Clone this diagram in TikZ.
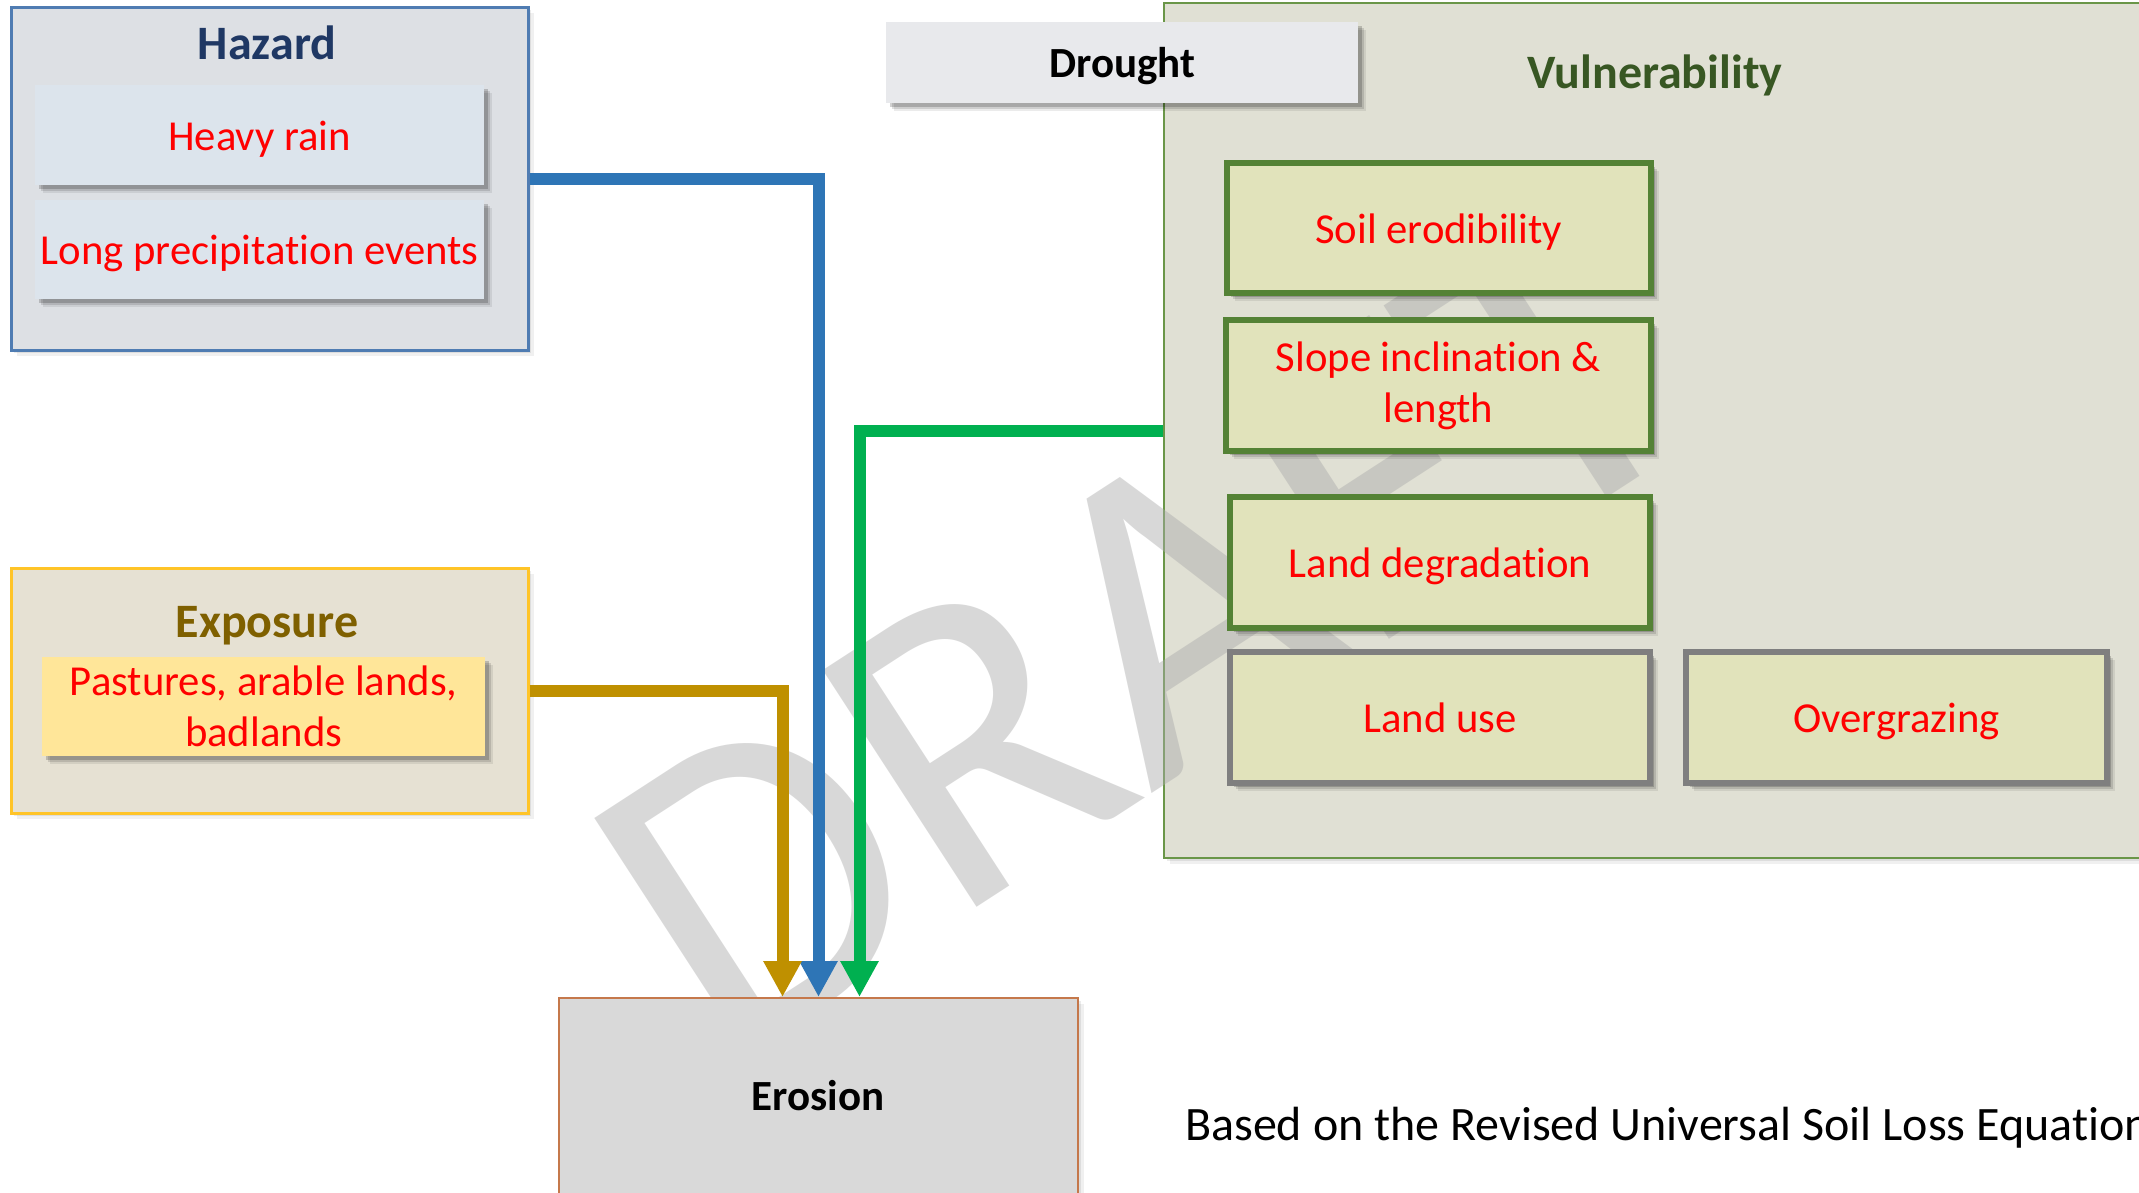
\documentclass[tikz,border=0pt]{standalone}
\usepackage{fontspec}
\setmainfont{Carlito}[Ligatures=NoCommon]
\usetikzlibrary{arrows.meta,shadows}
\definecolor{hzBorder}{RGB}{79,124,178}
\definecolor{hzFill}{RGB}{221,224,228}
\definecolor{hzInner}{RGB}{220,228,236}
\definecolor{hzTitle}{RGB}{31,56,100}
\definecolor{exBorder}{RGB}{255,196,40}
\definecolor{exFill}{RGB}{230,225,211}
\definecolor{exInner}{RGB}{255,230,153}
\definecolor{exTitle}{RGB}{127,96,0}
\definecolor{vuBorder}{RGB}{106,150,72}
\definecolor{vuFill}{RGB}{224,224,212}
\definecolor{vuTitle}{RGB}{56,87,35}
\definecolor{vuInner}{RGB}{225,227,187}
\definecolor{vuGreen}{RGB}{84,130,53}
\definecolor{vuGray}{RGB}{127,127,127}
\definecolor{drFill}{RGB}{232,233,236}
\definecolor{erFill}{RGB}{217,217,217}
\definecolor{erBorder}{RGB}{197,120,75}
\definecolor{cBlue}{RGB}{46,117,182}
\definecolor{cGold}{RGB}{191,144,0}
\definecolor{cGreen}{RGB}{0,176,80}
\definecolor{wmGray}{RGB}{170,170,170}
\definecolor{txtRed}{RGB}{255,0,0}
\newcommand\fsbody{\fontsize{42.7}{51}\selectfont}
\newcommand\fstitle{\bfseries\fontsize{48}{56}\selectfont}
\newcommand\fshead{\bfseries\fontsize{43}{52}\selectfont}
\tikzset{
  panel/.style={draw, rectangle, inner sep=0pt, anchor=north west, line width=2.5pt},
  softshadow/.style={
    drop shadow={shadow xshift=8pt,shadow yshift=-8pt,opacity=0.08,fill=black},
    drop shadow={shadow xshift=6pt,shadow yshift=-6pt,opacity=0.12,fill=black},
    drop shadow={shadow xshift=4pt,shadow yshift=-4pt,opacity=0.18,fill=black}},
  panelshadow/.style={
    drop shadow={shadow xshift=6pt,shadow yshift=-6pt,opacity=0.06,fill=black},
    drop shadow={shadow xshift=3pt,shadow yshift=-3pt,opacity=0.08,fill=black}},
  itembox/.style={rectangle, inner sep=0pt, anchor=north west, text=txtRed, font=\fsbody, align=center, softshadow},
  oneline/.style={text height=30pt, text depth=0pt},
  factorbox/.style={itembox, draw, line width=6pt, fill=vuInner},
  titletext/.style={anchor=base, inner sep=0pt, font=\fstitle},
  conn/.style={line width=12pt, -{Triangle[length=36pt,width=36pt]}}
}
\begin{document}
\begin{tikzpicture}[x=1pt,y=-1pt]
\useasboundingbox (0,0) rectangle (2139,1192);
\clip (0,0) rectangle (2139,1192);
\fill[white] (0,0) rectangle (2139,1192);

% Hazard
\node[panel, draw=hzBorder, fill=hzFill, panelshadow, minimum width=517pt, minimum height=343pt] (hazard) at (10,6) {};
\node[titletext, text=hzTitle] (hazardtitle) at (267,59) {Hazard};
\node[itembox, oneline, fill=hzInner, minimum width=449pt, minimum height=100pt] (heavy) at (35,85) {Heavy rain};
\node[itembox, oneline, fill=hzInner, minimum width=449pt, minimum height=99pt] (longp) at (35,200) {Long precipitation events};

% Exposure
\node[panel, draw=exBorder, fill=exFill, panelshadow, minimum width=517pt, minimum height=245pt] (exposure) at (10,567) {};
\node[titletext, text=exTitle] (exposuretitle) at (267,637) {Exposure};
\node[itembox, fill=exInner, minimum width=443pt, minimum height=99pt] (pastures) at (42,657) {Pastures, arable lands,\\badlands};

% Vulnerability
\node[panel, draw=vuBorder, line width=2pt, fill=vuFill, panelshadow, minimum width=1200pt, minimum height=855pt] (vuln) at (1163,2) {};
\node[titletext, text=vuTitle] (vulntitle) at (1655,88) {Vulnerability};

% Drought
\node[itembox, oneline, fill=drFill, text=black, font=\fshead, minimum width=472pt, minimum height=81pt] (drought) at (886,22) {Drought};

% Watermark
\node[font=\fontsize{440}{440}\selectfont, text=wmGray, text opacity=0.45, rotate=33, anchor=base west, inner sep=0pt] (draft) at (723,1072) {DRAFT};

% Vulnerability factors
\node[factorbox, oneline, draw=vuGreen, minimum width=424.5pt, minimum height=130.6pt] (soil) at (1223.5,159.7) {Soil erodibility};
\node[factorbox, draw=vuGreen, minimum width=425pt, minimum height=131pt] (slope) at (1223,317) {Slope inclination \&\\length};
\node[factorbox, oneline, draw=vuGreen, minimum width=420pt, minimum height=131pt] (landdeg) at (1227,494) {Land degradation};
\node[factorbox, oneline, draw=vuGray, minimum width=420pt, minimum height=131pt] (landuse) at (1227,649) {Land use};
\node[factorbox, oneline, draw=vuGray, minimum width=421pt, minimum height=131pt] (overgraz) at (1683,649) {Overgrazing};

% Erosion
\node[panel, draw=erBorder, line width=2pt, fill=erFill, panelshadow, minimum width=519pt, minimum height=260pt] (erosion) at (558,997) {};
\node[anchor=base, inner sep=0pt, font=\fshead] (erosiontitle) at (818,1110) {Erosion};

% Connectors
\draw[conn, cBlue] (hazard.east) -| (erosion.north);
\draw[conn, cGold] (exposure.east) -| ([xshift=-36pt]erosion.north);
\draw[conn, cGreen] (vuln.west) -| ([xshift=41pt]erosion.north);

% Note
\node[font=\fontsize{48}{56}\selectfont, anchor=base west, inner sep=0pt] (note) at (1185,1140) {Based on the Revised Universal Soil Loss Equation};
\end{tikzpicture}
\end{document}
